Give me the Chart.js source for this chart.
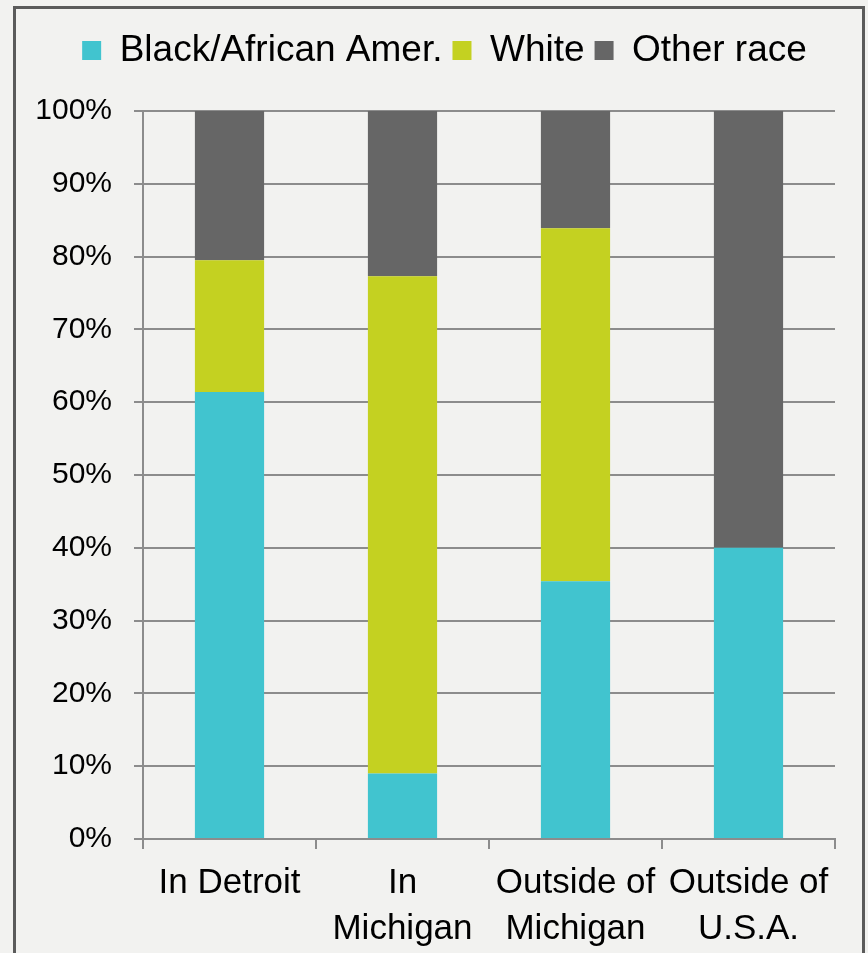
<!DOCTYPE html>
<html>
<head>
<meta charset="utf-8">
<script src="https://cdn.jsdelivr.net/npm/chart.js@4.4.0/dist/chart.umd.min.js"></script>
<style>
  body { margin: 0; background: #f2f2f0; overflow: hidden; }
  #frame { position: absolute; left: 13px; top: 6px; width: 846px; height: 1000px; border: 3px solid #5b5b5b; }
  #myChart { position: absolute; left: 0; top: 0; }
</style>
</head>
<body>
<div id="frame"></div>
<canvas id="myChart" width="868" height="953"></canvas>
<script>
// categorias e valores (percentuais)
const categorias = ["In Detroit", ["In", "Michigan"], ["Outside of", "Michigan"], ["Outside of", "U.S.A."]];
const negros = [61.4, 9.0, 35.4, 40.0];
const brancos = [18.1, 68.3, 48.5, 0];
const outros = [20.5, 22.7, 16.1, 60.0];
const ticksY = [0, 10, 20, 30, 40, 50, 60, 70, 80, 90, 100];

const fonte = "'Liberation Sans', Arial, sans-serif";
const corGrade = "#8c8c8c";

// legenda: altura fixa e deslocada um pouco para a direita (como no original)
const ajusteLegenda = {
    id: "ajusteLegenda",
    beforeInit(chart) {
        const fitOriginal = chart.legend.fit;
        chart.legend.fit = function fit() {
            fitOriginal.bind(chart.legend)();
            this.height = 89;
        };
    },
    afterLayout(chart) {
        chart.legend.left += 27;
        chart.legend.right += 27;
    }
};

const config = {
    type: "bar",
    data: {
        labels: categorias,
        datasets: [
            { label: "Black/African Amer.", data: negros, backgroundColor: "#41c4cf" },
            { label: "White", data: brancos, backgroundColor: "#c4d121" },
            { label: "Other race", data: outros, backgroundColor: "#666666" }
        ]
    },
    options: {
        responsive: false,
        animation: false,
        datasets: {
            bar: { categoryPercentage: 1, barPercentage: 0.4 }
        },
        layout: {
            padding: { top: 22, left: 0, right: 33, bottom: 0 }
        },
        plugins: {
            legend: {
                position: "top",
                labels: {
                    boxWidth: 19,
                    boxHeight: 19,
                    padding: 10,
                    color: "#000",
                    font: { family: fonte, size: 37 }
                }
            },
            tooltip: { enabled: false }
        },
        scales: {
            x: {
                stacked: true,
                grid: { drawOnChartArea: false, drawTicks: true, tickLength: 10, color: corGrade, lineWidth: 2 },
                border: { color: corGrade, width: 2 },
                ticks: {
                    color: "#000",
                    padding: 11,
                    maxRotation: 0,
                    autoSkip: false,
                    font: { family: fonte, size: 35, lineHeight: 1.33 }
                },
                afterFit(scale) { scale.height = 114; }
            },
            y: {
                stacked: true,
                min: 0,
                max: 100,
                afterBuildTicks(scale) { scale.ticks = ticksY.map(v => ({ value: v })); },
                grid: { color: corGrade, lineWidth: 2, tickLength: 9 },
                border: { color: corGrade, width: 2 },
                ticks: {
                    color: "#000",
                    padding: 22,
                    font: { family: fonte, size: 30 },
                    callback: v => v + "%"
                },
                afterFit(scale) { scale.width = 143; }
            }
        }
    },
    plugins: [ajusteLegenda]
};

new Chart(document.getElementById("myChart"), config);
</script>
</body>
</html>
